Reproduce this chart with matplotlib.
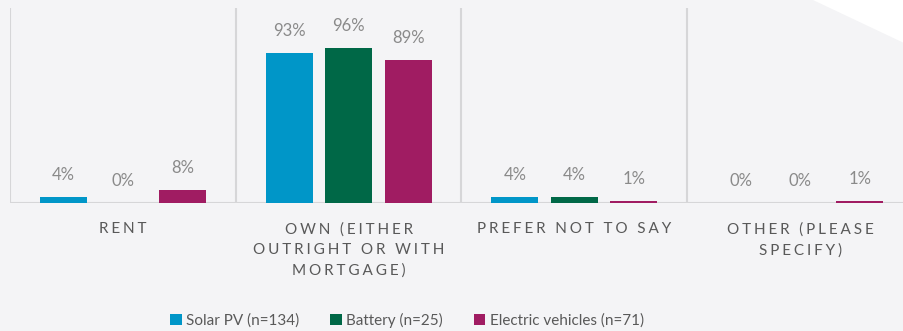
import matplotlib.pyplot as plt
import matplotlib.patches as mpatches
import numpy as np

# Tenure of respondents by technology owned
categories = ['Rent', 'Own (either\noutright or with\nmortgage)', 'Prefer not to say', 'Other (please\nspecify)']
series_names = ['Solar PV (n=134)', 'Battery (n=25)', 'Electric vehicles (n=71)']
solar_pv = [4, 93, 4, 0]
battery = [0, 96, 4, 0]
electric_vehicles = [8, 89, 1, 1]

COLORS = ['#0096c8', '#006847', '#a01c62']
BG = '#f4f4f6'
GRID = '#d6d6d8'
LABEL_GREY = '#8a8a8a'
TEXT_GREY = '#595959'

plt.rcParams['font.family'] = ['Lato', 'DejaVu Sans']


def spaced(text):
    """Upper-case text with wide tracking between letters."""
    return '\n'.join('\u2009\u200a'.join(line) for line in text.upper().split('\n'))


fig = plt.figure(figsize=(9.04, 3.31), dpi=100, facecolor=BG)

# pale diagonal corner at the top right
fig.patches.append(mpatches.Polygon([(813 / 904, 1), (1, 1), (1, 1 - 43 / 331)],
                                    closed=True, transform=fig.transFigure,
                                    facecolor='white', edgecolor='none', zorder=0))

ax = fig.add_axes([10 / 904, 1 - 203 / 331, 903 / 904, 195 / 331])
ax.set_facecolor('none')

x = np.arange(len(categories))
width = 0.208
offset = 0.264
all_series = [solar_pv, battery, electric_vehicles]
for i, (vals, name, col) in enumerate(zip(all_series, series_names, COLORS)):
    pos = x + (i - 1) * offset
    ax.bar(pos, vals, width, color=col, label=name, zorder=3)
    for xp, v in zip(pos, vals):
        ax.annotate(f'{v}%', (xp, v), xytext=(0, 14), textcoords='offset pixels',
                    ha='center', va='bottom', fontsize=12, color=LABEL_GREY)

ax.set_xlim(-0.5, len(categories) - 0.5)
ax.set_ylim(0, 121)

# group separators and baseline
for b in np.arange(-0.5, len(categories), 1.0):
    ax.axvline(b, color=GRID, lw=1.5, zorder=1)
ax.axhline(0, color=GRID, lw=1.5, zorder=2)

for s in ax.spines.values():
    s.set_visible(False)
ax.set_yticks([])
ax.set_xticks(x)
ax.set_xticklabels([spaced(c) for c in categories], fontsize=11, color=TEXT_GREY,
                   linespacing=1.55, va='top')
ax.tick_params(axis='x', length=0, pad=14)

leg = fig.legend(loc='center', bbox_to_anchor=(407 / 904, 1 - 320 / 331), ncol=3,
                 frameon=False, fontsize=11, handlelength=0.75, handleheight=0.75,
                 handletextpad=0.3, columnspacing=2.0)
for t in leg.get_texts():
    t.set_color(TEXT_GREY)

fig.savefig('out.png', dpi=100, facecolor=BG)
